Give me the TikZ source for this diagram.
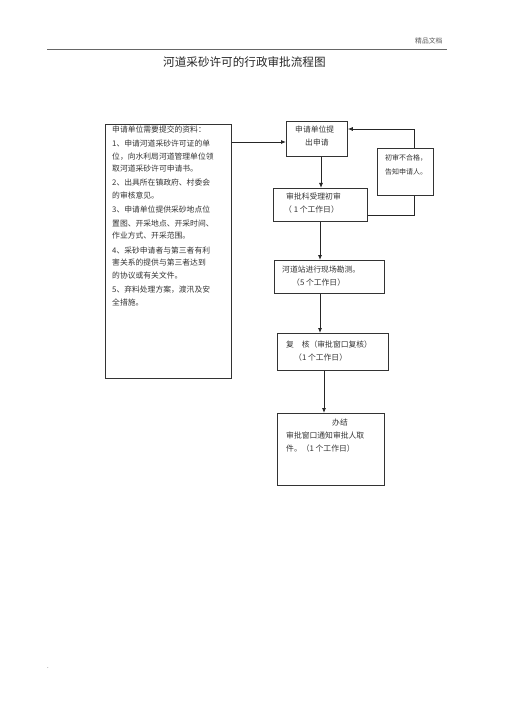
\documentclass[tikz,border=0pt]{standalone}
\usepackage{fontspec}
\setmainfont{Noto Sans CJK SC}
\usetikzlibrary{arrows.meta}
\tikzset{
  box/.style={draw=black!80, line width=0.8pt, anchor=north west, inner sep=0pt},
  txt/.style={anchor=west, inner sep=0pt, text=black!80, font=\fontsize{7.8}{9}\selectfont},
  arr/.style={draw=black!85, line width=0.8pt, -{Latex[length=5pt,width=4pt]}},
  ln/.style={draw=black!85, line width=0.8pt}
}
\begin{document}
\begin{tikzpicture}[x=1pt,y=-1pt]
\useasboundingbox (0,0) rectangle (505,714);
% header
\draw[black!60, line width=0.7pt] (47,49) coordinate (h1) -- (447,49) coordinate (h2);
\node[txt, font=\fontsize{6.8}{8}\selectfont, text=black!65] (hdr) at (415,41) {精品文档};
\node[txt, font=\fontsize{11.6}{13}\selectfont, text=black!85] (title) at (163,62) {河道采砂许可的行政审批流程图};
% boxes
\node[box, minimum width=126, minimum height=254] (L) at (105,124) {};
\node[box, minimum width=61, minimum height=35] (b1) at (286,121) {};
\node[box, minimum width=94, minimum height=33] (b2) at (273,188) {};
\node[box, minimum width=110, minimum height=33] (b3) at (274,260) {};
\node[box, minimum width=111, minimum height=37] (b4) at (277,333) {};
\node[box, minimum width=107, minimum height=72] (b5) at (277,413) {};
% left box text
\node[txt] (l1) at (112,130) {申请单位需要提交的资料：};
\node[txt] (l2) at (112,144) {1、申请河道采砂许可证的单};
\node[txt] (l3) at (112,156.5) {位，向水利局河道管理单位领};
\node[txt] (l4) at (112,169) {取河道采砂许可申请书。};
\node[txt] (l5) at (112,183) {2、出具所在镇政府、村委会};
\node[txt] (l6) at (112,195.5) {的审核意见。};
\node[txt] (l7) at (112,210) {3、申请单位提供采砂地点位};
\node[txt] (l8) at (112,223.5) {置图、开采地点、开采时间、};
\node[txt] (l9) at (112,236) {作业方式、开采范围。};
\node[txt] (l10) at (112,250.5) {4、采砂申请者与第三者有利};
\node[txt] (l11) at (112,263) {害关系的提供与第三者达到};
\node[txt] (l12) at (112,276) {的协议或有关文件。};
\node[txt] (l13) at (112,289.5) {5、弃料处理方案，渡汛及安};
\node[txt] (l14) at (112,302) {全措施。};
% box texts
\node[txt] (t1a) at (295,130) {申请单位提};
\node[txt] (t1b) at (305,143) {出申请};
\node[txt] (t2a) at (286,197) {审批科受理初审};
\node[txt] (t2b) at (284,210) {（ 1 个工作日）};
\node[txt] (t3a) at (282,270) {河道站进行现场勘测。};
\node[txt] (t3b) at (292,283) {（5 个工作日）};
\node[txt] (t4a) at (286,345) {复\quad 核（审批窗口复核）};
\node[txt] (t4b) at (294,358) {（1 个工作日）};
\node[txt] (t5a) at (332,423) {办结};
\node[txt] (t5b) at (286,436) {审批窗口通知审批人取};
\node[txt] (t5c) at (286,449) {件。（1 个工作日）};
\node[txt, font=\fontsize{6}{7}\selectfont] (dot) at (47,668) {.};
% connectors
\coordinate (yA) at (0,142);
\coordinate (xA) at (321,0);
\coordinate (xB) at (320,0);
\coordinate (xC) at (324,0);
\coordinate (f1) at (414,215);
\coordinate (f2) at (414,129);
\draw[arr] (L.east |- yA) -- (b1.west |- yA);
\draw[arr] (b1.south -| xA) -- (b2.north -| xA);
\draw[arr] (b2.south -| xB) -- (b3.north -| xB);
\draw[arr] (b3.south -| xB) -- (b4.north -| xB);
\draw[arr] (b4.south -| xC) -- (b5.north -| xC);
\draw[arr] (b2.east |- f1) -- (f1) -- (f2) -- (b1.east |- f2);
% rejection box, drawn over the feedback line
\node[box, fill=white, minimum width=56, minimum height=47] (nf) at (377,148) {};
\node[txt, font=\fontsize{7}{8}\selectfont] (tna) at (385,158) {初审不合格，};
\node[txt, font=\fontsize{7}{8}\selectfont] (tnb) at (385,172) {告知申请人。};
\end{tikzpicture}
\end{document}
